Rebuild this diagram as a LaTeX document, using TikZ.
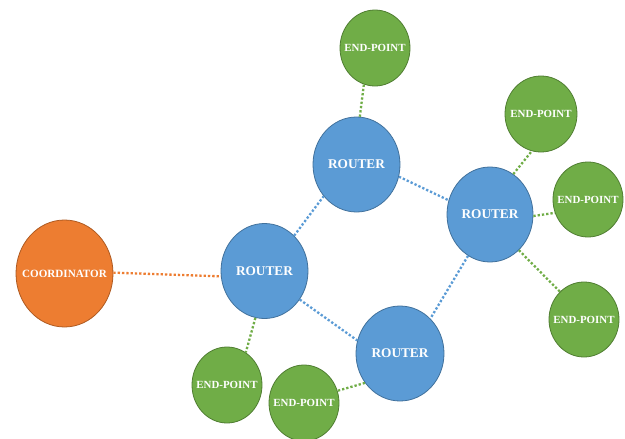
\documentclass[tikz,border=0pt]{standalone}
\usepackage{fontspec}
\setmainfont{Liberation Serif}
\usetikzlibrary{shapes.geometric}
\definecolor{corange}{HTML}{ED7D31}
\definecolor{corangeD}{HTML}{AE5A21}
\definecolor{cblue}{HTML}{5B9BD5}
\definecolor{cblueD}{HTML}{41719C}
\definecolor{cgreen}{HTML}{70AD47}
\definecolor{cgreenD}{HTML}{507E32}
\newcommand\zerowd[1]{\makebox[0pt]{#1}}
\tikzset{
  coordbox/.style={ellipse, inner sep=0pt, fill=corange, draw=corangeD, line width=0.8pt,
    minimum width=97pt, minimum height=107pt, text=white, font=\bfseries\fontsize{11.1}{12}\selectfont},
  routerbox/.style={ellipse, inner sep=0pt, fill=cblue, draw=cblueD, line width=0.8pt,
    minimum width=87pt, minimum height=95pt, text=white, font=\bfseries\fontsize{13.3}{15}\selectfont},
  endbox/.style={ellipse, inner sep=0pt, fill=cgreen, draw=cgreenD, line width=0.8pt,
    minimum width=70pt, minimum height=76pt, text=white, font=\bfseries\fontsize{10.9}{12}\selectfont},
  link/.style={line width=2.3pt, dash pattern=on 2.3pt off 2pt},
  olink/.style={link, draw=corange},
  blink/.style={link, draw=cblue},
  glink/.style={link, draw=cgreen},
}
\begin{document}
\begin{tikzpicture}[x=1pt,y=-1pt]
\useasboundingbox (0,0) rectangle (625,439);
\node[coordbox] (co) at (64.5,273.5) {\zerowd{COORDINATOR}};
\node[routerbox] (rl) at (264.5,271) {\zerowd{ROUTER}};
\node[routerbox] (rt) at (356.5,164.5) {\zerowd{ROUTER}};
\node[routerbox, minimum width=86pt] (rr) at (490,214.5) {\zerowd{ROUTER}};
\node[routerbox, minimum width=88pt] (rb) at (400,353.5) {\zerowd{ROUTER}};
\node[endbox] (et) at (375,48) {\zerowd{END-POINT}};
\node[endbox, minimum width=72pt] (e1) at (541,114) {\zerowd{END-POINT}};
\node[endbox, minimum height=75pt] (e2) at (588,199.5) {\zerowd{END-POINT}};
\node[endbox, minimum height=75pt] (e3) at (584,319.5) {\zerowd{END-POINT}};
\node[endbox] (ebl) at (227,385) {\zerowd{END-POINT}};
\node[endbox] (eb) at (304,403) {\zerowd{END-POINT}};
\draw[olink] (co.1) -- (rl.187);
\draw[blink] (rl.50) -- (rt.224);
\draw[blink] (rl.-39) -- (rb.163);
\draw[blink] (rt.-16) -- (rr.161);
\draw[blink] (rr.242) -- (rb.49);
\draw[glink] (rt.86) -- (et.253);
\draw[glink] (rr.60) -- (e1.256);
\draw[glink] (rr.-2) -- (e2.202);
\draw[glink] (rr.-51) -- (e3.131);
\draw[glink] (rl.259) -- (ebl.60);
\draw[glink] (rb.220) -- (eb.20);
\end{tikzpicture}
\end{document}
